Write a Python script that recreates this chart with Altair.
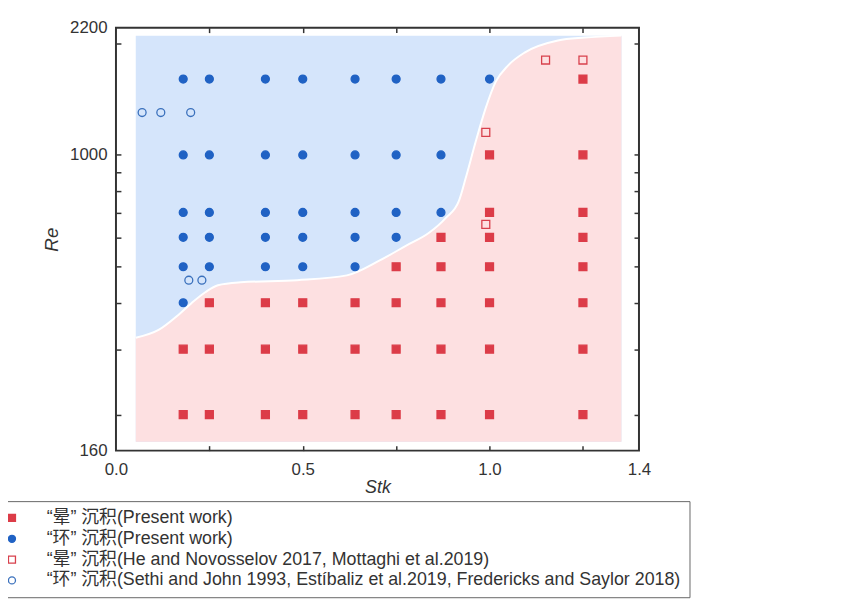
import altair as alt
import pandas as pd

# ---------------- data ----------------
SERIES = [
    "“晕” 沉积(Present work)",
    "“环” 沉积(Present work)",
    "“晕” 沉积(He and Novosselov 2017, Mottaghi et al.2019)",
    "“环” 沉积(Sethi and John 1993, Estíbaliz et al.2019, Fredericks and Saylor 2018)",
]

# present work, "halo" deposition (red filled squares): Re row -> Stk values
halo_present = {
    1600: [1.25],
    1000: [1.00, 1.25],
    700: [1.00, 1.25],
    600: [0.87, 1.00, 1.25],
    500: [0.75, 0.87, 1.00, 1.25],
    400: [0.25, 0.40, 0.50, 0.64, 0.75, 0.87, 1.00, 1.25],
    300: [0.18, 0.25, 0.40, 0.50, 0.64, 0.75, 0.87, 1.00, 1.25],
    200: [0.18, 0.25, 0.40, 0.50, 0.64, 0.75, 0.87, 1.00, 1.25],
}
# present work, "ring" deposition (blue filled circles)
ring_present = {
    1600: [0.18, 0.25, 0.40, 0.50, 0.64, 0.75, 0.87, 1.00],
    1000: [0.18, 0.25, 0.40, 0.50, 0.64, 0.75, 0.87],
    700: [0.18, 0.25, 0.40, 0.50, 0.64, 0.75, 0.87],
    600: [0.18, 0.25, 0.40, 0.50, 0.64, 0.75],
    500: [0.18, 0.25, 0.40, 0.50, 0.64],
    400: [0.18],
}
# literature, halo (open red squares)
halo_lit_stk = [1.15, 1.25, 0.99, 0.99]
halo_lit_re = [1800, 1800, 1150, 650]
# literature, ring (open blue circles)
ring_lit_stk = [0.07, 0.12, 0.20, 0.195, 0.23]
ring_lit_re = [1300, 1300, 1300, 460, 460]

# regime boundary
boundary_stk = [0.053, 0.114, 0.167, 0.202, 0.239, 0.273, 0.334, 0.485, 0.618,
                0.706, 0.777, 0.838, 0.883, 0.918, 0.936, 0.963, 0.989, 1.016,
                1.050, 1.095, 1.183, 1.255, 1.353]
boundary_re = [322, 338, 371, 399, 427, 446, 454, 460, 474, 520, 570, 617, 677,
               752, 865, 1086, 1330, 1570, 1742, 1888, 2032, 2069, 2094]
region_stk = [0.053, 1.353]
region_re = [169, 2094]

x_tick_labels = [0.0, 0.5, 1.0, 1.4]
x_minor = [0.25, 0.5, 0.75, 1.0, 1.25]
y_tick_labels = [160, 1000, 2200]
y_minor = [200, 300, 400, 500, 600, 700, 800, 900, 1000, 2000]

# ---------------- tables ----------------
rows = []
for re_v, xs_ in halo_present.items():
    rows += [{"stk": x, "re": re_v, "series": SERIES[0]} for x in xs_]
for re_v, xs_ in ring_present.items():
    rows += [{"stk": x, "re": re_v, "series": SERIES[1]} for x in xs_]
rows += [{"stk": x, "re": r, "series": SERIES[2]} for x, r in zip(halo_lit_stk, halo_lit_re)]
rows += [{"stk": x, "re": r, "series": SERIES[3]} for x, r in zip(ring_lit_stk, ring_lit_re)]
pts = pd.DataFrame(rows)

bnd = pd.DataFrame({"stk": boundary_stk, "re": boundary_re, "bottom": region_re[0]})
reg = pd.DataFrame({"x0": [region_stk[0]], "x1": [region_stk[1]],
                    "y0": [region_re[0]], "y1": [region_re[1]]})

W, H = 528, 427
xs = alt.Scale(domain=[0, 1.4], nice=False, zero=False)
ys = alt.Scale(type="log", domain=[160, 2200], nice=False)
FONT = "Liberation Sans, Arial, Noto Sans CJK SC"

main_x = alt.Axis(values=x_tick_labels, format=".1f", ticks=False, tickSize=0, domain=False,
                  grid=False, labelFlush=False, labelPadding=11, title="Stk",
                  titleFontStyle="italic", titleFontWeight="normal", titleFontSize=18,
                  titlePadding=1, orient="bottom")
main_y = alt.Axis(values=y_tick_labels, format="d", ticks=False, tickSize=0, domain=False,
                  grid=False, labelPadding=9, title="Re", titleFontStyle="italic",
                  titleFontWeight="normal", titleFontSize=19, titlePadding=8, orient="left")


def tick_axis(orient, values, offset):
    return alt.Axis(orient=orient, offset=offset, values=values, tickSize=5, labels=False,
                    domain=False, grid=False, title=None, tickColor="#333", tickWidth=1.5)


blue = alt.Chart(reg).mark_rect(color="#d5e5fb").encode(
    x=alt.X("x0:Q", scale=xs, axis=main_x),
    x2="x1:Q",
    y=alt.Y("y0:Q", scale=ys, axis=main_y),
    y2="y1:Q",
)

pink = alt.Chart(bnd).mark_area(color="#fde0e1", interpolate="monotone", opacity=1).encode(
    x=alt.X("stk:Q", scale=xs, axis=tick_axis("top", x_minor, -H)),
    y=alt.Y("re:Q", scale=ys, axis=tick_axis("right", y_minor, -W)),
    y2="bottom:Q",
)

edge = alt.Chart(bnd).mark_line(color="white", strokeWidth=2, interpolate="monotone").encode(
    x=alt.X("stk:Q", scale=xs, axis=tick_axis("bottom", x_minor, -H)),
    y=alt.Y("re:Q", scale=ys, axis=tick_axis("left", y_minor, -W)),
)


def make_legend():
    return alt.Legend(
        title=None, orient="none", legendX=-125, legendY=478,
        strokeColor="#666", padding=8,
        labelFont=FONT, labelFontSize=18, labelColor="#333", labelLimit=1000,
        symbolSize=50, symbolStrokeWidth=1.3, symbolOffset=3, labelOffset=26,
        rowPadding=3,
    )


points = alt.Chart(pts).mark_point(opacity=1, filled=True, strokeWidth=1.3, size=64).encode(
    x=alt.X("stk:Q", scale=xs, axis=None),
    y=alt.Y("re:Q", scale=ys, axis=None),
    shape=alt.Shape("series:N", sort=SERIES, scale=alt.Scale(domain=SERIES,
                    range=["square", "circle", "square", "circle"]), legend=make_legend()),
    fill=alt.Fill("series:N", sort=SERIES, scale=alt.Scale(domain=SERIES,
                  range=["#dc3c48", "#2062c4", "transparent", "transparent"]),
                  legend=make_legend()),
    stroke=alt.Stroke("series:N", sort=SERIES, scale=alt.Scale(domain=SERIES,
                      range=["#dc3c48", "#2062c4", "#d8404c", "#3a70bc"]),
                      legend=make_legend()),
)

chart = alt.layer(blue, pink, edge, points).resolve_axis(
    x="independent", y="independent"
).properties(
    width=W, height=H,
    autosize=alt.AutoSizeParams(type="none"),
    padding={"left": 109, "top": 17, "right": 209, "bottom": 152},
).configure_view(
    stroke="#333", strokeWidth=2
).configure_axis(
    labelFont=FONT, titleFont=FONT, labelFontSize=17, labelColor="#333", titleColor="#333",
)

chart.save("out.html", embed_options={"renderer": "svg", "actions": False})
